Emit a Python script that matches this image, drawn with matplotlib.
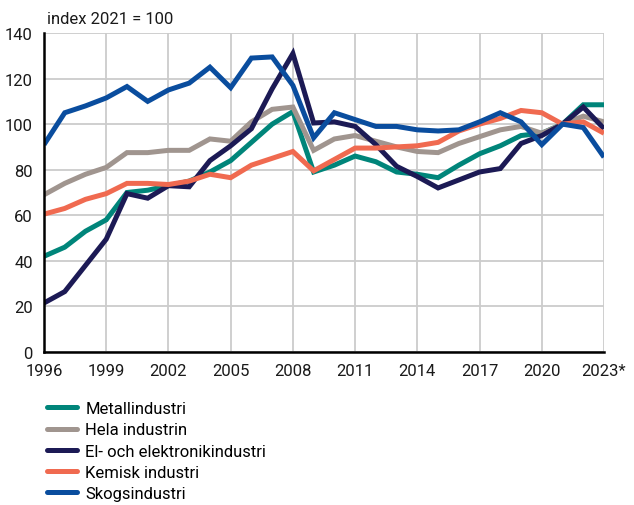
import matplotlib.pyplot as plt
import numpy as np

plt.rcParams['font.family'] = ['Roboto', 'DejaVu Sans']

years = np.arange(1996, 2024)
xtick_years = [1996, 1999, 2002, 2005, 2008, 2011, 2014, 2017, 2020, 2023]
xtick_labels = ['1996', '1999', '2002', '2005', '2008', '2011', '2014', '2017', '2020', '2023*']

metall = [42, 46, 53, 58, 70, 71, 73, 75, 79, 84, 92, 100, 105.5, 79, 82, 86, 83.5,
          79, 78, 76.5, 82, 87, 90.5, 95, 96, 100, 108.5, 108.5]
hela = [69, 74, 78, 81, 87.5, 87.5, 88.5, 88.5, 93.5, 92.5, 101, 106.5, 107.5, 88.5, 93.5, 95, 92.5,
        90, 88, 87.5, 91.5, 94.5, 97.5, 99, 96, 100, 103.5, 101]
el = [21.5, 26.5, 38, 49.5, 69.5, 67.5, 73, 72.5, 84, 90.5, 98, 115.5, 131, 100.5, 101, 99, 91,
      81.5, 77, 72, 75.5, 79, 80.5, 91.5, 95, 100, 107.5, 98]
kemisk = [60.5, 63, 67, 69.5, 74, 74, 73.5, 75, 78, 76.5, 82, 85, 88, 79.5, 84.5, 89.5, 89.5,
          90, 90.5, 92, 97, 100, 102.5, 106, 105, 100, 101, 96]
skog = [91, 105, 108, 111.5, 116.5, 110, 115, 118, 125, 116, 129, 129.5, 117, 94, 105, 102, 99,
        99, 97.5, 97, 97.5, 101, 105, 101, 91, 100, 98.5, 85.5]

series = [
    ('Metallindustri', metall, '#00857a'),
    ('Hela industrin', hela, '#a0958f'),
    ('El- och elektronikindustri', el, '#1c1a55'),
    ('Kemisk industri', kemisk, '#f06a50'),
    ('Skogsindustri', skog, '#0a4d9e'),
]

fig = plt.figure(figsize=(6.34, 5.06), dpi=100)
ax = fig.add_axes([0.0694, 0.3024, 0.8833, 0.6304])

for name, vals, col in series:
    ax.plot(years, vals, color=col, lw=3.6, label=name, solid_capstyle='butt', solid_joinstyle='miter')

ax.set_xlim(1996, 2023)
ax.set_ylim(0, 140)
ax.set_yticks(np.arange(0, 141, 20))
ax.set_xticks(xtick_years)
ax.set_xticklabels(xtick_labels)
ax.grid(color='#cccccc', lw=1.3)
ax.set_axisbelow(True)
ax.tick_params(length=0, labelsize=12, colors='#1a1a1a')
ax.tick_params(axis='x', pad=8)
ax.tick_params(axis='y', pad=8)
for s in ['top', 'right']:
    ax.spines[s].set_visible(False)
for s in ['left', 'bottom']:
    ax.spines[s].set_color('black')
    ax.spines[s].set_linewidth(1.8)
    ax.spines[s].set_zorder(5)

fig.text(0.074, 0.962, 'index 2021 = 100', fontsize=12, color='#1a1a1a', va='center')

handles, labels = ax.get_legend_handles_labels()
leg = fig.legend(handles, labels, loc='upper left', bbox_to_anchor=(0.074, 0.205), frameon=False,
                 fontsize=12, handlelength=1.8, handletextpad=0.5, labelspacing=0.37,
                 borderaxespad=0, borderpad=0)
for h in leg.get_lines():
    h.set_solid_capstyle('round')
    h.set_linewidth(3.6)

fig.savefig('out.png', dpi=100)
